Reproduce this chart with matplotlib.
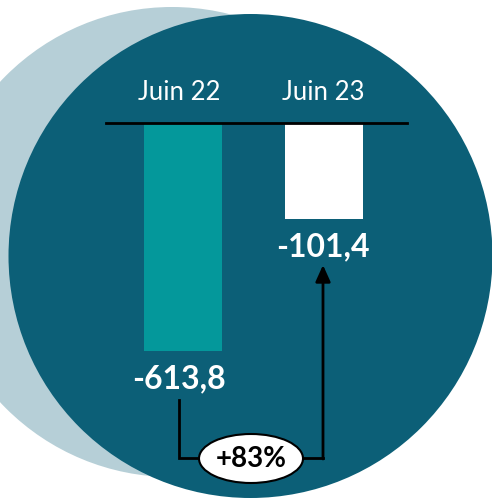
import matplotlib
matplotlib.use("Agg")
import matplotlib.pyplot as plt
import numpy as np
from matplotlib.patches import Ellipse, Circle

# ---- data ----
categories = ["Juin 22", "Juin 23"]
values = [-613.8, -101.4]
value_labels = ["-613,8", "-101,4"]
change_label = "+83%"
bar_colors = ["#04989B", "#FFFFFF"]

W, H = 492, 498
fig = plt.figure(figsize=(W / 100, H / 100), dpi=100)
fig.patch.set_facecolor("white")
plt.rcParams["font.family"] = ["Lato", "DejaVu Sans"]

# background decorative circles (pixel coordinates, y downwards)
bg = fig.add_axes([0, 0, 1, 1])
bg.set_xlim(0, W)
bg.set_ylim(H, 0)
bg.axis("off")
bg.add_patch(Circle((172, 242), 235, facecolor="#B6CFD7", edgecolor="none"))
bg.add_patch(Circle((250.5, 256), 242, facecolor="#0C5F77", edgecolor="none"))

# bar axes with compressed (power) scale
p = 0.48
k = 10.46          # px per scaled unit
ax_top, ax_h = 123, 290
ax_left, ax_right = 106, 407
x0_px, dx_px = 183, 141
fwd = lambda y: np.sign(y) * np.abs(y) ** p
inv = lambda y: np.sign(y) * np.abs(y) ** (1 / p)
ax = fig.add_axes([ax_left / W, (H - ax_top - ax_h) / H,
                   (ax_right - ax_left) / W, ax_h / H])
ax.patch.set_alpha(0)
ax.set_yscale("function", functions=(fwd, inv))
ax.set_ylim(-(ax_h / k) ** (1 / p), 0)
ax.set_xlim((ax_left - x0_px) / dx_px, (ax_right - x0_px) / dx_px)
xs = np.arange(len(categories))
ax.bar(xs, values, width=78 / dx_px, color=bar_colors, zorder=2)
for s in ["left", "right", "bottom"]:
    ax.spines[s].set_visible(False)
ax.spines["top"].set_color("black")
ax.spines["top"].set_linewidth(2)
ax.set_xticks([])
ax.set_yticks([])
ax.minorticks_off()

label_dx = [-4, -1]
for i, (c, v, lab) in enumerate(zip(categories, values, value_labels)):
    ax.annotate(c, xy=(i, 0), xytext=(label_dx[i], 30), textcoords="offset pixels",
                ha="center", va="center", color="white", fontsize=18.5,
                annotation_clip=False)
    ax.annotate(lab, xy=(i, v), xytext=(label_dx[i], -28), textcoords="offset pixels",
                ha="center", va="center", color="white", fontsize=23,
                fontweight="bold", annotation_clip=False)

# connector arrow in pixel coords derived from bar positions
fig.canvas.draw()
def to_bg(x, y):
    px, py = ax.transData.transform((x, y))
    return px, H - py
xa, ya = to_bg(0, values[0])
xb, yb = to_bg(1, values[1])
xa += label_dx[0]
xb += label_dx[1]
start_y = ya + 49
tip_y = yb + 46
base_y = 458
bg.plot([xa, xa, xb], [start_y, base_y, base_y], color="black", lw=2,
        solid_joinstyle="miter")
bg.annotate("", xy=(xb, tip_y), xytext=(xb, base_y + 1),
            arrowprops=dict(arrowstyle="-|>,head_length=1.0,head_width=0.45",
                            lw=2, color="black", shrinkA=0, shrinkB=0))
cx = (xa + xb) / 2
bg.add_patch(Ellipse((cx, base_y + 0.5), 104, 49, facecolor="white",
                     edgecolor="black", lw=1.5, zorder=5))
bg.text(cx, base_y + 0.5, change_label, ha="center", va="center", fontsize=20,
        fontweight="bold", color="black", zorder=6)

fig.savefig("out.png", dpi=100)
